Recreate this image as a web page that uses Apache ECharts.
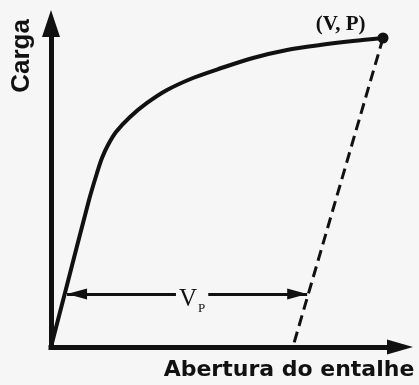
<!DOCTYPE html>
<html>
<head>
<meta charset="utf-8">
<script src="https://cdn.jsdelivr.net/npm/echarts@6/dist/echarts.min.js"></script>
<style>
  html, body { margin: 0; padding: 0; background: #f6f6f6; }
  #chart { width: 419px; height: 385px; }
</style>
</head>
<body>
<div id="chart"></div>
<script>
// Load vs. notch opening (CMOD) curve, arbitrary units 0-100 on both axes
const openingX = [0, 4.0, 10.89, 13.18, 14.61, 16.33, 18.62, 22.64, 27.51, 33.24, 40.69, 48.42, 57.88, 67.62, 77.08, 86.53, 95.13];
const loadY    = [0, 16.7, 45.44, 53.79, 58.42, 62.44, 66.46, 71.10, 75.43, 79.44, 83.15, 86.09, 89.34, 91.81, 93.35, 94.59, 95.52];

// Elastic unloading line from the peak (V, P) back to the opening axis
const unloadX = [95.13, 69.3];
const unloadY = [95.52, 0];

// Plastic opening V_p measured at this load level
const vpLevel = 16.4;
const vpFrom = 4.6;
const vpTo = 73.4;

const peakLabel = '(V, P)';
const yTitle = 'Carga';
const xTitle = 'Abertura do entalhe';

const ink = '#111';
const bg = '#f6f6f6';

const curveData = openingX.map((x, i) => {
  const last = i === openingX.length - 1;
  return last
    ? {
        value: [x, loadY[i]],
        symbol: 'circle',
        symbolSize: 11,
        label: {
          show: true,
          formatter: peakLabel,
          position: 'left',
          distance: 12,
          offset: [0, -13],
          fontFamily: 'Liberation Serif',
          fontWeight: 'bold',
          fontSize: 21,
          color: ink
        }
      }
    : { value: [x, loadY[i]], symbol: 'none' };
});

const chart = echarts.init(document.getElementById('chart'), null, { renderer: 'canvas' });

chart.setOption({
  backgroundColor: bg,
  animation: false,
  grid: { left: 51, right: 19, top: 23.5, bottom: 38 },
  xAxis: {
    type: 'value', min: 0, max: 100,
    axisLine: {
      show: true, onZero: false,
      symbol: ['none', 'triangle'], symbolSize: [15, 26],
      lineStyle: { color: ink, width: 5, cap: 'square' }
    },
    axisTick: { show: false }, axisLabel: { show: false }, splitLine: { show: false }
  },
  yAxis: {
    type: 'value', min: 0, max: 100,
    axisLine: {
      show: true, onZero: false,
      symbol: ['none', 'triangle'], symbolSize: [18, 27],
      lineStyle: { color: ink, width: 5, cap: 'square' }
    },
    axisTick: { show: false }, axisLabel: { show: false }, splitLine: { show: false }
  },
  series: [
    {
      type: 'line',
      name: 'unload',
      data: unloadX.map((x, i) => [x, unloadY[i]]),
      symbol: 'none',
      clip: false,
      lineStyle: { color: ink, width: 3, type: [11, 6] },
      z: 2,
      markLine: {
        silent: true,
        symbol: ['triangle', 'triangle'],
        symbolSize: [11, 20],
        symbolOffset: [[0, 10], [0, 10]],
        lineStyle: { color: ink, width: 3, type: 'solid' },
        label: {
          show: true,
          position: 'insideMiddle',
          formatter: '{v|V}{p|P}',
          offset: [5, 5],
          backgroundColor: bg,
          padding: [0, 3],
          rich: {
            v: { fontFamily: 'Liberation Serif', fontSize: 25, color: ink, lineHeight: 24, verticalAlign: 'top' },
            p: { fontFamily: 'Liberation Serif', fontSize: 13, color: ink, lineHeight: 13, verticalAlign: 'top', padding: [15, 0, 0, 1] }
          }
        },
        data: [[{ coord: [vpFrom, vpLevel] }, { coord: [vpTo, vpLevel] }]]
      }
    },
    {
      type: 'line',
      name: 'load',
      data: curveData,
      smooth: 0.3,
      showSymbol: true,
      clip: false,
      itemStyle: { color: ink },
      lineStyle: { color: ink, width: 4, cap: 'round', join: 'round' },
      z: 3
    }
  ],
  graphic: [
    {
      type: 'text', x: 22, y: 56, rotation: Math.PI / 2,
      style: {
        text: yTitle, fill: ink, align: 'center', verticalAlign: 'middle',
        font: 'bold 26px "Liberation Sans", Arial, sans-serif'
      }
    },
    {
      type: 'text', x: 289, y: 370,
      style: {
        text: xTitle, fill: ink, align: 'center', verticalAlign: 'middle',
        font: 'bold 22px "DejaVu Sans", Verdana, sans-serif'
      }
    }
  ]
});
</script>
</body>
</html>
